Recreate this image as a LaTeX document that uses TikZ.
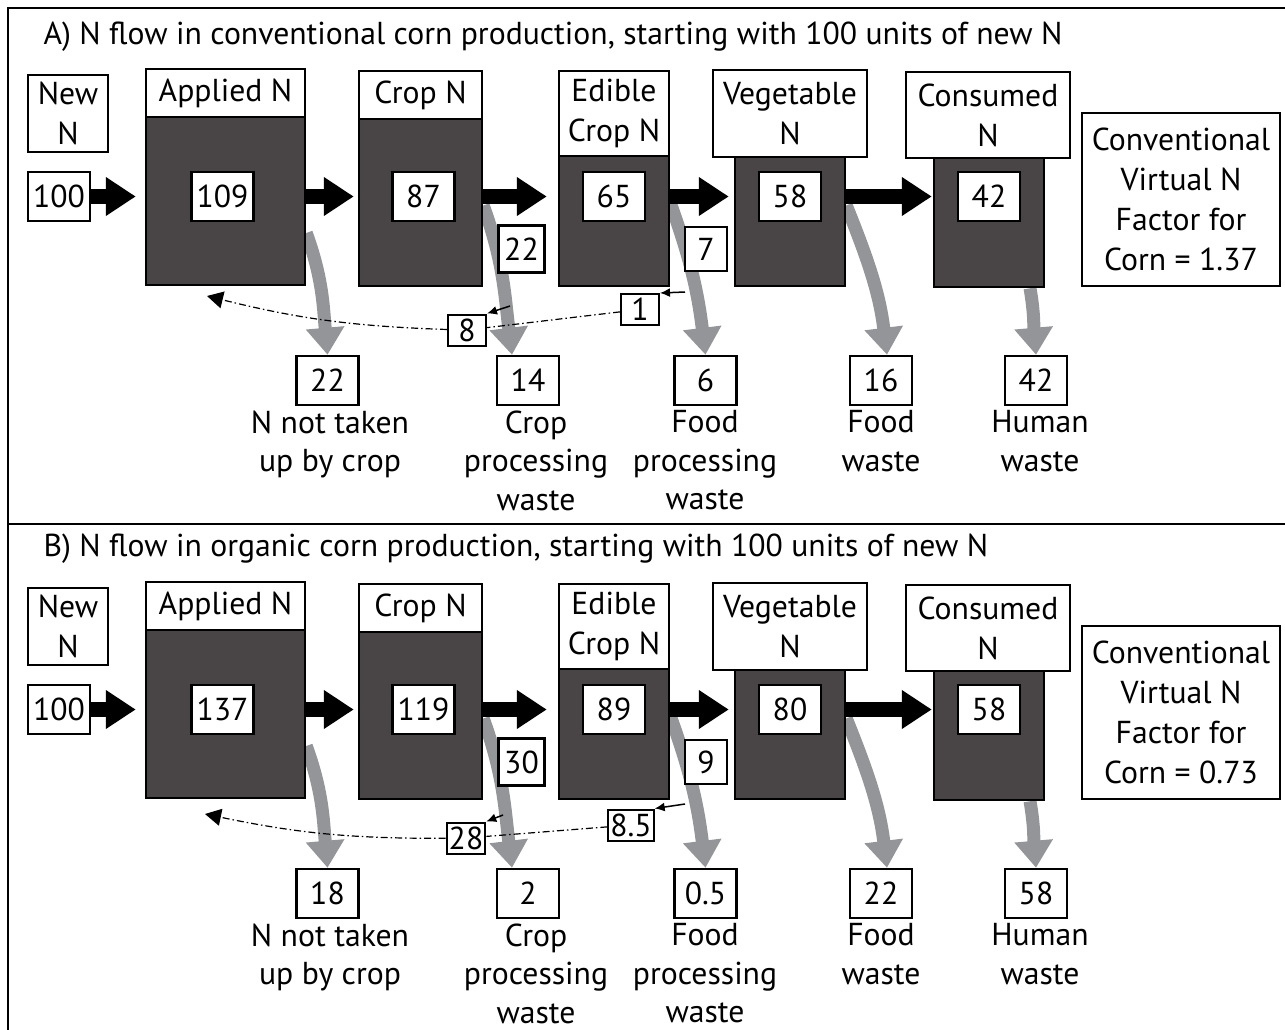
\documentclass[tikz,border=0pt]{standalone}
\usepackage{fontspec}
\setmainfont{PT Sans}
\usetikzlibrary{arrows.meta,backgrounds}
\definecolor{pooldark}{RGB}{73,69,70}
\definecolor{flowgray}{RGB}{147,149,152}

\begin{document}
\begin{tikzpicture}[x=1pt, y=-1pt,
    every node/.style={font=\fontsize{31.7}{40}\selectfont},
    lbl/.style={draw, fill=white, line width=2.5pt, align=center, inner sep=0pt},
    pool/.style={draw, fill=pooldark, line width=2.5pt, inner sep=0pt},
    num/.style={draw, fill=white, line width=2.5pt, inner sep=0pt, minimum width=62pt, minimum height=49pt},
    tag/.style={draw, fill=white, line width=2pt, inner sep=2pt, minimum width=38pt, minimum height=31pt},
    wastetxt/.style={anchor=north, inner sep=0pt, align=center, font=\fontsize{31.7}{38.5}\selectfont},
    blk/.style={line width=15pt, -{Triangle[length=30pt, width=37pt]}},
    gry/.style={draw=flowgray, line width=13pt, -{Triangle[length=27pt, width=37pt]}},
    recyc/.style={line width=1.2pt, dash pattern=on 7pt off 3pt on 1.5pt off 3pt},
    spill/.style={line width=1.5pt, -{Latex[length=10pt, width=9pt]}}]
        \useasboundingbox (0, 0) rectangle (1285, 1030);

        % frame
        \draw [line width=2.5pt] (1290, 8) -- (8, 8) -- (8, 1035);
        \draw [line width=2.5pt] (8, 524) -- (1290, 524);

        % A) conventional
        \node [anchor=west] at (40, 37) (aTitle) {A) N flow in conventional corn production, starting with 100 units of new N};

        \node [lbl, minimum width=80pt, minimum height=77pt] at (68, 113.5) (aNew) {New\\N};
        \node [num] at (59, 196.5) (aIn) {100};

        \node [pool, minimum width=159pt, minimum height=168pt] at (225.5, 201) (aApp) {};
        \node [lbl, minimum width=159pt, minimum height=48pt] at (225.5, 93) (aAppLbl) {Applied N};
        \node [num] at (222.5, 196.5) (aAppNum) {109};

        \node [pool, minimum width=123pt, minimum height=167pt] at (420.5, 202.5) (aCrop) {};
        \node [lbl, minimum width=123pt, minimum height=48pt] at (420.5, 95) (aCropLbl) {Crop N};
        \node [num] at (423.5, 196.5) (aCropNum) {87};

        \node [pool, minimum width=110pt, minimum height=130pt] at (614, 221) (aEd) {};
        \node [lbl, minimum width=110pt, minimum height=85pt] at (614, 113.5) (aEdLbl) {Edible\\Crop N};
        \node [num] at (614, 196.5) (aEdNum) {65};

        \node [pool, minimum width=110pt, minimum height=129pt] at (790, 221.5) (aVeg) {};
        \node [lbl, minimum width=154pt, minimum height=87pt] at (790, 113.5) (aVegLbl) {Vegetable\\N};
        \node [num] at (790, 196.5) (aVegNum) {58};

        \node [pool, minimum width=110pt, minimum height=129pt] at (989, 222.5) (aCon) {};
        \node [lbl, minimum width=164pt, minimum height=86pt] at (988, 115) (aConLbl) {Consumed\\N};
        \node [num] at (989, 196.5) (aConNum) {42};

        \node [lbl, minimum width=198pt, minimum height=173pt] at (1181, 199.5) (aFactor) {Conventional\\Virtual N\\Factor for\\Corn = 1.37};

        \node [num, minimum width=46pt, minimum height=47pt] at (521.5, 249) (aLossCrop) {22};
        \node [num, minimum width=42pt, minimum height=44pt] at (706, 249) (aLossEd) {7};

        \node [num] at (327.5, 380.5) (aW1) {22};
        \node [num] at (528, 380.5) (aW2) {14};
        \node [num] at (705.5, 380.5) (aW3) {6};
        \node [num] at (881, 380.5) (aW4) {16};
        \node [num] at (1036, 380.5) (aW5) {42};

        \node [wastetxt] at (330, 410.5) (aT1) {N not taken\\up by crop};
        \node [wastetxt] at (536, 410.5) (aT2) {Crop\\processing\\waste};
        \node [wastetxt] at (705, 410.5) (aT3) {Food\\processing\\waste};
        \node [wastetxt] at (881, 410.5) (aT4) {Food\\waste};
        \node [wastetxt] at (1040, 410.5) (aT5) {Human\\waste};

        \node [tag] at (467, 330) (aRecA) {8};
        \node [tag] at (640, 309.5) (aRecB) {1};
        \coordinate (aBack) at (207, 296);
        \coordinate (aSpillA) at (510, 306);
        \coordinate (aSpillB) at (685, 292);

        \draw [blk, shorten >=9pt] (aIn.east) -- (aApp.west |- aIn);
        \draw [blk, shorten >=4pt] (aApp.east |- aAppNum) -- (aCrop.west |- aAppNum);
        \draw [blk, shorten >=11pt] (aCrop.east |- aCropNum) -- (aEd.west |- aCropNum);
        \draw [blk, shorten >=5pt] (aEd.east |- aEdNum) -- (aVeg.west |- aEdNum);
        \draw [blk, shorten >=1pt] (aVeg.east |- aVegNum) -- (aCon.west |- aVegNum);

        \begin{scope}[on background layer]
        \draw [gry] ([yshift=-32pt]aApp.east) to[out=-70, in=95] (aW1.north);
        \draw [gry] ([yshift=-3pt]aCrop.east) to[out=-70, in=97] ([xshift=-16pt]aW2.north);
        \draw [gry] ([yshift=18pt]aEd.east) to[out=-70, in=97] (aW3.north);
        \draw [gry] ([yshift=16pt]aVeg.east) to[out=-68, in=97] ([xshift=6pt]aW4.north);
        \draw [gry] ([xshift=41pt]aCon.south) to[out=-80, in=95] (aW5.north);
        \end{scope}

        \draw [recyc] (aRecB) -- (aRecA);
        \draw [recyc, -{Triangle[length=16pt, width=17pt]}] (aRecA) to[bend left=6] (aBack);
        \draw [spill] (aSpillA) -- (aRecA.north east);
        \draw [spill] (aSpillB) -- (aRecB.north east);

        % B) organic
        \begin{scope}[yshift=-513pt]
        \node [anchor=west] at (40, 36) (bTitle) {B) N flow in organic corn production, starting with 100 units of new N};

        \node [lbl, minimum width=80pt, minimum height=77pt] at (68, 113.5) (bNew) {New\\N};
        \node [num] at (59, 196.5) (bIn) {100};

        \node [pool, minimum width=159pt, minimum height=168pt] at (225.5, 201) (bApp) {};
        \node [lbl, minimum width=159pt, minimum height=48pt] at (225.5, 93) (bAppLbl) {Applied N};
        \node [num] at (222.5, 196.5) (bAppNum) {137};

        \node [pool, minimum width=123pt, minimum height=167pt] at (420.5, 202.5) (bCrop) {};
        \node [lbl, minimum width=123pt, minimum height=48pt] at (420.5, 95) (bCropLbl) {Crop N};
        \node [num] at (423.5, 196.5) (bCropNum) {119};

        \node [pool, minimum width=110pt, minimum height=130pt] at (614, 221) (bEd) {};
        \node [lbl, minimum width=110pt, minimum height=85pt] at (614, 113.5) (bEdLbl) {Edible\\Crop N};
        \node [num] at (614, 196.5) (bEdNum) {89};

        \node [pool, minimum width=110pt, minimum height=129pt] at (790, 221.5) (bVeg) {};
        \node [lbl, minimum width=154pt, minimum height=87pt] at (790, 113.5) (bVegLbl) {Vegetable\\N};
        \node [num] at (790, 196.5) (bVegNum) {80};

        \node [pool, minimum width=110pt, minimum height=129pt] at (989, 222.5) (bCon) {};
        \node [lbl, minimum width=164pt, minimum height=86pt] at (988, 115) (bConLbl) {Consumed\\N};
        \node [num] at (989, 196.5) (bConNum) {58};

        \node [lbl, minimum width=198pt, minimum height=173pt] at (1181, 199.5) (bFactor) {Conventional\\Virtual N\\Factor for\\Corn = 0.73};

        \node [num, minimum width=46pt, minimum height=47pt] at (521.5, 249) (bLossCrop) {30};
        \node [num, minimum width=42pt, minimum height=44pt] at (706, 249) (bLossEd) {9};

        \node [num] at (327.5, 380.5) (bW1) {18};
        \node [num] at (528, 380.5) (bW2) {2};
        \node [num] at (705.5, 380.5) (bW3) {0.5};
        \node [num] at (881, 380.5) (bW4) {22};
        \node [num] at (1036, 380.5) (bW5) {58};

        \node [wastetxt] at (330, 410.5) (bT1) {N not taken\\up by crop};
        \node [wastetxt] at (536, 410.5) (bT2) {Crop\\processing\\waste};
        \node [wastetxt] at (705, 410.5) (bT3) {Food\\processing\\waste};
        \node [wastetxt] at (881, 410.5) (bT4) {Food\\waste};
        \node [wastetxt] at (1040, 410.5) (bT5) {Human\\waste};

        \node [tag] at (466, 325) (bRecA) {28};
        \node [tag] at (631, 312) (bRecB) {8.5};
        \coordinate (bBack) at (205, 301);
        \coordinate (bSpillA) at (503, 302);
        \coordinate (bSpillB) at (685, 291);

        \draw [blk, shorten >=9pt] (bIn.east) -- (bApp.west |- bIn);
        \draw [blk, shorten >=4pt] (bApp.east |- bAppNum) -- (bCrop.west |- bAppNum);
        \draw [blk, shorten >=11pt] (bCrop.east |- bCropNum) -- (bEd.west |- bCropNum);
        \draw [blk, shorten >=5pt] (bEd.east |- bEdNum) -- (bVeg.west |- bEdNum);
        \draw [blk, shorten >=1pt] (bVeg.east |- bVegNum) -- (bCon.west |- bVegNum);

        \begin{scope}[on background layer]
        \draw [gry] ([yshift=-32pt]bApp.east) to[out=-70, in=95] (bW1.north);
        \draw [gry] ([yshift=-3pt]bCrop.east) to[out=-70, in=97] ([xshift=-16pt]bW2.north);
        \draw [gry] ([yshift=18pt]bEd.east) to[out=-70, in=97] (bW3.north);
        \draw [gry] ([yshift=16pt]bVeg.east) to[out=-68, in=97] ([xshift=6pt]bW4.north);
        \draw [gry] ([xshift=41pt]bCon.south) to[out=-80, in=95] (bW5.north);
        \end{scope}

        \draw [recyc] (bRecB) -- (bRecA);
        \draw [recyc, -{Triangle[length=16pt, width=17pt]}] (bRecA) to[bend left=6] (bBack);
        \draw [spill] (bSpillA) -- (bRecA.north east);
        \draw [spill] (bSpillB) -- (bRecB.north east);
        \end{scope}
\end{tikzpicture}
\end{document}
